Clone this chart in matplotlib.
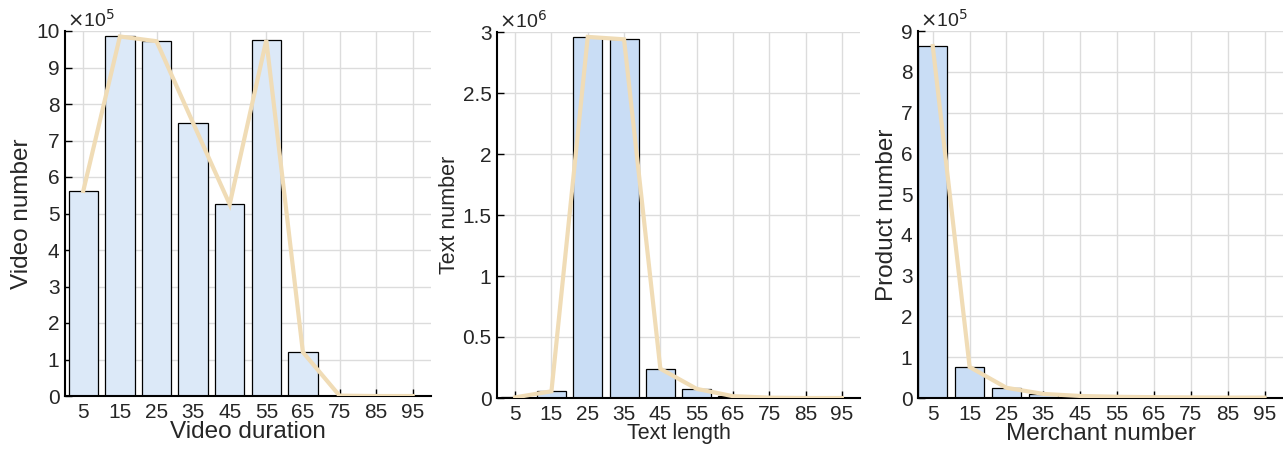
import numpy as np
import matplotlib
matplotlib.use("Agg")
import matplotlib.pyplot as plt
from matplotlib.ticker import FuncFormatter

plt.rcParams['font.family'] = ['Liberation Sans', 'DejaVu Sans']

bins = [5, 15, 25, 35, 45, 55, 65, 75, 85, 95]

video_counts = [5.62e5, 9.85e5, 9.72e5, 7.48e5, 5.25e5, 9.75e5, 1.20e5, 0.01e5, 0.0, 0.0]
text_counts = [0.005e6, 0.055e6, 2.96e6, 2.94e6, 0.24e6, 0.075e6, 0.015e6, 0.003e6, 0.0, 0.0]
product_counts = [8.63e5, 0.76e5, 0.25e5, 0.10e5, 0.05e5, 0.03e5, 0.02e5, 0.015e5, 0.01e5, 0.01e5]

panels = [
    # (position, values, scale, exponent, ylim, yticks, xlim, bar colour, xlabel, ylabel, label size)
    ([65, 31, 431, 396], video_counts, 1e5, 5, 10, np.arange(0, 11, 1), (0, 100), "#dce9f8",
     "Video duration", "Video number", 17.5),
    ([497, 32, 860, 398], text_counts, 1e6, 6, 3, np.arange(0, 3.01, 0.5), (0, 100), "#c9ddf5",
     "Text length", "Text number", 15.5),
    ([918, 31, 1283, 398], product_counts, 1e5, 5, 9, np.arange(0, 10, 1), (1, 100), "#c9ddf5",
     "Merchant number", "Product number", 17.5),
]

W, H = 1283, 449
fig = plt.figure(figsize=(W / 100, H / 100), dpi=100)

for pos, vals, scale, expo, ytop, yticks, xlim, barcol, xlab, ylab, lsize in panels:
    l, t, r, b = pos
    ax = fig.add_axes([l / W, (H - b) / H, (r - l) / W, (b - t) / H])
    ax.set_axisbelow(True)
    ax.grid(True, color="#dcdcdc", lw=1.0)
    ax.bar(bins, vals, width=8, color=barcol, edgecolor="black", lw=0.9, zorder=2)
    ax.plot(bins, vals, color="#f0dcb6", lw=3, zorder=3, solid_joinstyle="miter")
    ax.set_xlim(*xlim)
    ax.set_ylim(0, ytop * scale)
    ax.set_xticks(bins)
    ax.set_yticks(yticks * scale)
    ax.yaxis.set_major_formatter(FuncFormatter(lambda v, p, s=scale: f"{v / s:g}"))
    ax.tick_params(direction="in", length=5, width=1, labelsize=15, colors="black",
                   labelcolor="#262626")
    ax.tick_params(axis="x", pad=5)
    ax.tick_params(axis="y", pad=4)
    for side in ["top", "right"]:
        ax.spines[side].set_visible(False)
    for side in ["left", "bottom"]:
        ax.spines[side].set_linewidth(1.5)
    ax.text(0.005, 1.0, r"$\times$10$^{%d}$" % expo, transform=ax.transAxes,
            fontsize=14, color="#262626", ha="left", va="bottom")
    ax.set_xlabel(xlab, fontsize=lsize, color="#262626", labelpad=-1)
    ax.set_ylabel(ylab, fontsize=lsize, color="#262626", labelpad=2)

fig.savefig("out.png", dpi=100)
